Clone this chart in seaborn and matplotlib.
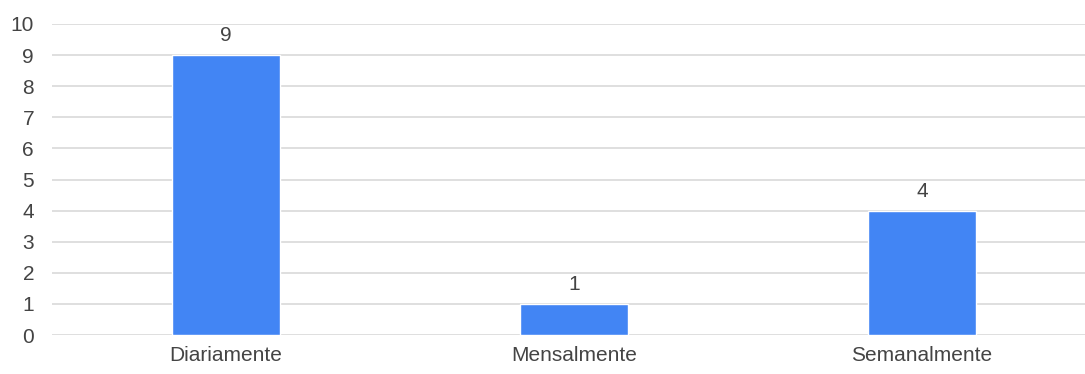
import matplotlib
matplotlib.use("Agg")
import matplotlib.pyplot as plt
import seaborn as sns
import pandas as pd

categories = ["Diariamente", "Mensalmente", "Semanalmente"]
counts = [9, 1, 4]
y_ticks = list(range(0, 11))

df = pd.DataFrame({"categoria": categories, "total": counts})

sns.set_theme(style="white")
plt.rcParams["font.family"] = ["Liberation Sans", "DejaVu Sans"]

fig = plt.figure(figsize=(10.85, 3.74), dpi=100)
ax = fig.add_axes([0.048, 0.104, 0.962, 0.832])

sns.barplot(data=df, x="categoria", y="total", color="#4285F4",
            saturation=1, width=0.31, ax=ax, zorder=3)

ax.set_ylim(0, 10)
ax.set_xlim(-0.5, 2.5)
ax.set_yticks(y_ticks)
ax.yaxis.grid(True, color="#d9d9d9", linewidth=1.2, zorder=0)
ax.set_axisbelow(True)
for s in ax.spines.values():
    s.set_visible(False)
ax.set_xlabel("")
ax.set_ylabel("")
ax.tick_params(axis="both", length=0, labelsize=15, colors="#444444")
ax.tick_params(axis="x", pad=8)
ax.tick_params(axis="y", pad=13)

for i, v in enumerate(counts):
    ax.annotate(str(v), (i, v), xytext=(0, 7), textcoords="offset points",
                ha="center", va="bottom", fontsize=15, color="#444444")

fig.savefig("out.png", dpi=100)
